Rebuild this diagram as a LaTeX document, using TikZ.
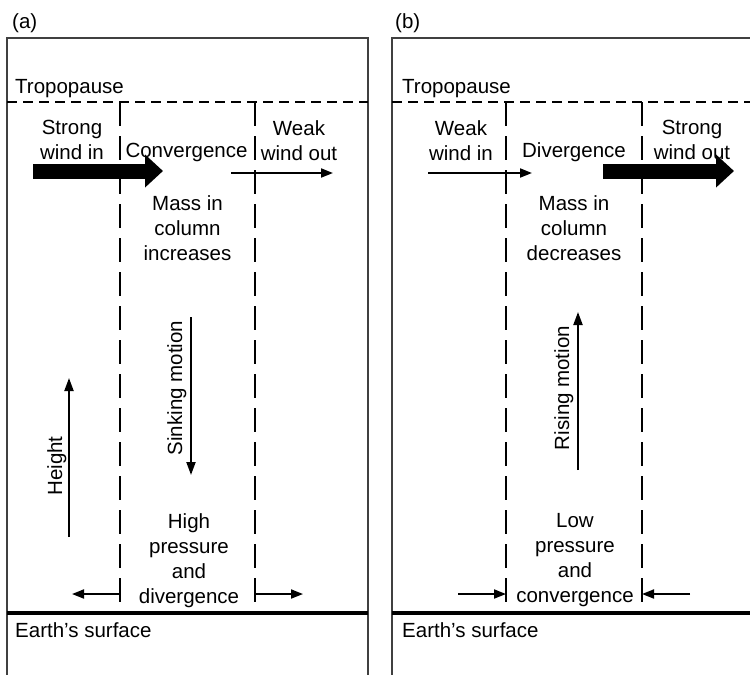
\documentclass[tikz,border=0pt]{standalone}
\usepackage{fontspec}
\setmainfont{Liberation Sans}
\usetikzlibrary{arrows.meta}

\begin{document}
\begin{tikzpicture}[x=1pt,y=-1pt,
	rahmen/.style={line width=1.5pt,black!75},
	saeule/.style={line width=1.2pt,dash pattern=on 24pt off 10pt},
	tropo/.style={line width=2.5pt,dash pattern=on 10pt off 6pt},
	boden/.style={line width=3.5pt},
	duenn/.style={line width=1.8pt,-{Triangle[length=12pt,width=9pt]}},
	dick/.style={line width=15pt,-{Triangle[length=18pt,width=32pt]}},
	senk/.style={line width=2pt,-{Triangle[length=13pt,width=9pt]}}]
	\tikzstyle{every node}=[font=\fontsize{20.5}{25}\selectfont,inner sep=0pt]
	\useasboundingbox (0,0) rectangle (750,675);
	
	%Rahmen
	\draw[rahmen] (7,675) -- (7,38) -- (368,38) -- (368,675);
	\draw[rahmen] (392,675) -- (392,38) -- (750,38);
	\node[anchor=base west] (lab1) at (12,28) {(a)};
	\node[anchor=base west] (lab2) at (395,28) {(b)};
	
	%Saeulen
	\draw[saeule] (120,102) -- (120,613) (255,102) -- (255,613);
	\draw[saeule] (506,102) -- (506,613) (642,102) -- (642,613);
	
	%Tropopause und Boden
	\draw[tropo] (7,102) -- (368,102) (392,102) -- (750,102);
	\draw[boden] (7,613) -- (368,613) (392,613) -- (750,613);
	\node[anchor=base west] (tp1) at (15,93) {Tropopause};
	\node[anchor=base west] (tp2) at (402,93) {Tropopause};
	\node[anchor=base west] (es1) at (15,637) {Earth's surface};
	\node[anchor=base west] (es2) at (402,637) {Earth's surface};
	
	%Texte (a)
	\node[anchor=north,align=center] (in1) at (72,120) {Strong\\wind in};
	\node[anchor=base] (kon) at (186.5,157) {Convergence};
	\node[anchor=north,align=center] (out1) at (299,120) {Weak\\wind out};
	\node[anchor=north,align=center] (mass1) at (187.5,195) {Mass in\\column\\increases};
	\node[anchor=north,align=center] (hoch) at (189,513) {High\\pressure\\and\\divergence};
	\node[rotate=90,anchor=base] (hoehe) at (62,466) {Height};
	\node[rotate=90,anchor=base] (sink) at (182,388) {Sinking motion};
	
	%Texte (b)
	\node[anchor=north,align=center] (in2) at (461,120) {Weak\\wind in};
	\node[anchor=base] (div) at (574,157) {Divergence};
	\node[anchor=north,align=center] (out2) at (692,120) {Strong\\wind out};
	\node[anchor=north,align=center] (mass2) at (574,195) {Mass in\\column\\decreases};
	\node[anchor=north,align=center] (tief) at (575,513) {Low\\pressure\\and\\convergence};
	\node[rotate=90,anchor=base] (steig) at (569,388) {Rising motion};
	
	%Pfeile
	\coordinate (a1) at (33,171);   \coordinate (a2) at (163,171);
	\coordinate (a3) at (231,173);  \coordinate (a4) at (333,173);
	\coordinate (a5) at (120,594);  \coordinate (a6) at (72,594);
	\coordinate (a7) at (255,594);  \coordinate (a8) at (303,594);
	\coordinate (h1) at (69,537);   \coordinate (h2) at (69,378);
	\coordinate (s1) at (191,317);  \coordinate (s2) at (191,475);
	\coordinate (b1) at (428,173);  \coordinate (b2) at (532,173);
	\coordinate (b3) at (603,171);  \coordinate (b4) at (734,171);
	\coordinate (b5) at (458,594);  \coordinate (b6) at (506,594);
	\coordinate (b7) at (690,594);  \coordinate (b8) at (642,594);
	\coordinate (r1) at (578,470);  \coordinate (r2) at (578,312);
	\draw[dick] (a1) -- (a2);
	\draw[duenn] (a3) -- (a4);
	\draw[duenn] (a5) -- (a6);
	\draw[duenn] (a7) -- (a8);
	\draw[senk] (h1) -- (h2);
	\draw[senk] (s1) -- (s2);
	\draw[duenn] (b1) -- (b2);
	\draw[dick] (b3) -- (b4);
	\draw[duenn] (b5) -- (b6);
	\draw[duenn] (b7) -- (b8);
	\draw[senk] (r1) -- (r2);
	
\end{tikzpicture}
\end{document}
